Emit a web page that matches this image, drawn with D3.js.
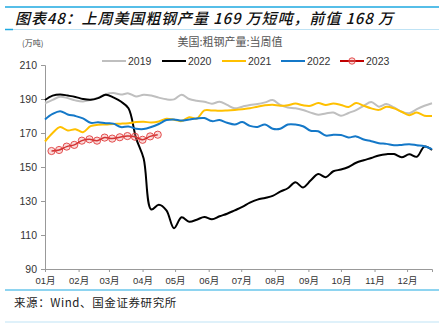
<!DOCTYPE html>
<html>
<head>
<meta charset="utf-8">
<script src="https://cdn.jsdelivr.net/npm/d3@7"></script>
<style>
  body { margin: 0; background: #fff; }
  svg { display: block; font-family: "Liberation Sans", Arial, "Noto Sans CJK SC", sans-serif; }
</style>
</head>
<body>
<div id="chart"></div>
<script>
var width = 439, height = 323;
var margin = {top: 65, right: 7, bottom: 54, left: 45};

// weekly values, 万短吨
var years = ["2019", "2020", "2021", "2022", "2023"];
var startDay = [0, 0, 0, 0, 6];
var v2019 = [187.5,189.5,191.3,190.5,189.2,188.6,189.5,190.8,192.8,193.5,192.6,193.3,191.5,192.5,192,190.8,189.8,189.8,192.5,190,189,188.4,187.2,188.4,186.5,184.5,185.5,186.5,187,188,189.4,186.5,185,184.5,183.5,182,180.8,181.5,182,180.2,181.8,183.5,186,188.2,185.5,187,185,182.5,181.6,184,186,187.5];
var v2020 = [189.4,192,192.7,192,191.2,190,189.5,190.5,192.5,191,188.5,184.5,167,155,125,127.8,124.5,114,120.4,117.8,119,120.6,119.2,121,122.5,124.5,126.5,129,130.8,131.8,133,135.5,137.5,141,138,142,145.9,144,147.5,148.5,150,152.5,154,155.3,156.8,157.5,157.6,155.7,157.5,156,162,160];
var v2021 = [165,170,173.5,171.5,172.2,170.5,174,174.8,175,175.3,175.5,175.8,176.4,176.6,176.2,176.8,178.4,177.8,177,179.3,178.5,183.3,183.3,183.1,183.3,183.6,184,184.5,185.5,186.3,186.6,186,186.3,187.3,186.3,186,187.6,186.5,187.3,186.5,185.3,187.6,186,184.5,183.6,185.5,184.5,182.5,180.5,182,180.2,180];
var v2022 = [178,181.2,182.8,180.9,180,178.6,176,176.3,175.7,175.5,173.5,173.8,172.5,172.3,173.5,175.3,177.6,178,177.3,178,178.6,178.8,177,177.6,176,175,176.4,174.2,173.6,175,172.5,172.5,175,175,174,171.3,171,168.5,169,168.8,167.4,168,166.2,165.2,164,163.6,162.8,163,163.4,162.8,162.2,160.5];
var v2023 = [159.4,160,162,163,165.5,166.3,165.5,167.3,166.7,167.5,168.2,167.8,166,168,169];
var yTicks = [90, 110, 130, 150, 170, 190, 210];
var monthLabels = ["01月","02月","03月","04月","05月","06月","07月","08月","09月","10月","11月","12月"];
var colors = ["#BFBFBF", "#000000", "#FFC000", "#1478C8", "#C00000"];

var allValues = [v2019, v2020, v2021, v2022, v2023];

var svg = d3.select("#chart").append("svg")
  .attr("width", width).attr("height", height);

// header / footer decorations
svg.append("line").attr("x1", 5).attr("x2", 439).attr("y1", 7).attr("y2", 7)
  .attr("stroke", "#1EA9E1").attr("stroke-width", 1.5);
svg.append("line").attr("x1", 5).attr("x2", 439).attr("y1", 29.5).attr("y2", 29.5)
  .attr("stroke", "#BFE3F5").attr("stroke-width", 1);
svg.append("line").attr("x1", 5).attr("x2", 13).attr("y1", 29.5).attr("y2", 29.5)
  .attr("stroke", "#1EA9E1").attr("stroke-width", 1.5);
svg.append("text").attr("x", 15).attr("y", 24)
  .attr("font-size", 15).attr("font-style", "italic").attr("font-weight", "500")
  .attr("letter-spacing", 0.9)
  .attr("fill", "#111")
  .style("font-family", "'Noto Sans CJK SC', sans-serif")
  .text("图表48：上周美国粗钢产量 169 万短吨，前值 168 万");

svg.append("line").attr("x1", 5).attr("x2", 439).attr("y1", 290).attr("y2", 290)
  .attr("stroke", "#1EA9E1").attr("stroke-width", 1.2);
svg.append("line").attr("x1", 5).attr("x2", 439).attr("y1", 322).attr("y2", 322)
  .attr("stroke", "#BFE3F5").attr("stroke-width", 1);
svg.append("text").attr("x", 14).attr("y", 307)
  .attr("font-size", 11.5).attr("fill", "#222").attr("letter-spacing", 0.6)
  .style("font-family", "'Noto Sans CJK SC', sans-serif")
  .text("来源：Wind、国金证券研究所");

svg.append("text").attr("x", 22).attr("y", 46)
  .attr("font-size", 8).attr("fill", "#444")
  .style("font-family", "'Noto Sans CJK SC', sans-serif")
  .text("(万吨)");
svg.append("text").attr("x", 230).attr("y", 46).attr("text-anchor", "middle")
  .attr("font-size", 11).attr("fill", "#555")
  .style("font-family", "'Noto Sans CJK SC', sans-serif")
  .text("美国:粗钢产量:当周值");

// scales
var x = d3.scaleTime()
  .domain([new Date(2021, 0, 1), new Date(2021, 11, 24)])
  .range([margin.left, width - margin.right]);
var y = d3.scaleLinear().domain([90, 210]).range([269, 65]);

// axes
var yAxis = svg.append("g").attr("transform", "translate(" + margin.left + ",0)")
  .call(d3.axisLeft(y).tickValues(yTicks).tickSize(4).tickPadding(4));
var xAxis = svg.append("g").attr("transform", "translate(0,269)")
  .call(d3.axisBottom(x).ticks(d3.timeMonth.every(1))
    .tickFormat(function(d) { return monthLabels[d.getMonth()]; })
    .tickSize(3).tickPadding(5));
[yAxis, xAxis].forEach(function(g) {
  g.select(".domain").attr("stroke", "#999");
  g.selectAll(".tick line").attr("stroke", "#999");
  g.selectAll(".tick text").attr("fill", "#333").attr("font-size", 10.5)
    .style("font-family", "'Liberation Sans', 'Noto Sans CJK SC', sans-serif");
});
xAxis.selectAll(".tick text").attr("font-size", 9.5);

// lines
var line = d3.line()
  .x(function(d) { return x(d.date); })
  .y(function(d) { return y(d.value); })
  .curve(d3.curveCatmullRom.alpha(0.5));

var series = years.map(function(yr, k) {
  return {
    year: yr,
    color: colors[k],
    points: allValues[k].map(function(v, i) {
      return {date: new Date(2021, 0, 1 + startDay[k] + 7 * i), value: v};
    })
  };
});

svg.append("g").selectAll("path")
  .data(series)
  .enter().append("path")
  .attr("d", function(d) { return line(d.points); })
  .attr("fill", "none")
  .attr("stroke", function(d) { return d.color; })
  .attr("stroke-width", function(d) { return d.year === "2023" ? 1.5 : 2; })
  .attr("stroke-linejoin", "round");

svg.append("g").selectAll("circle")
  .data(series[4].points)
  .enter().append("circle")
  .attr("cx", function(d) { return x(d.date); })
  .attr("cy", function(d) { return y(d.value); })
  .attr("r", 3.6)
  .attr("fill", "rgba(240,150,150,0.35)")
  .attr("stroke", "#E03C3C")
  .attr("stroke-width", 0.9);

// legend
var legendX = [102, 162, 222, 281, 340];
var legend = svg.append("g").selectAll("g")
  .data(series).enter().append("g")
  .attr("transform", function(d, i) { return "translate(" + legendX[i] + ",61)"; });
legend.append("line").attr("x1", 0).attr("x2", 24)
  .attr("stroke", function(d) { return d.color; }).attr("stroke-width", 2);
legend.filter(function(d) { return d.year === "2023"; }).append("circle")
  .attr("cx", 12).attr("r", 3.2)
  .attr("fill", "rgba(240,150,150,0.35)").attr("stroke", "#E03C3C").attr("stroke-width", 0.9);
legend.append("text").attr("x", 26).attr("y", 4)
  .attr("font-size", 10.5).attr("fill", "#333")
  .text(function(d) { return d.year; });
</script>
</body>
</html>
